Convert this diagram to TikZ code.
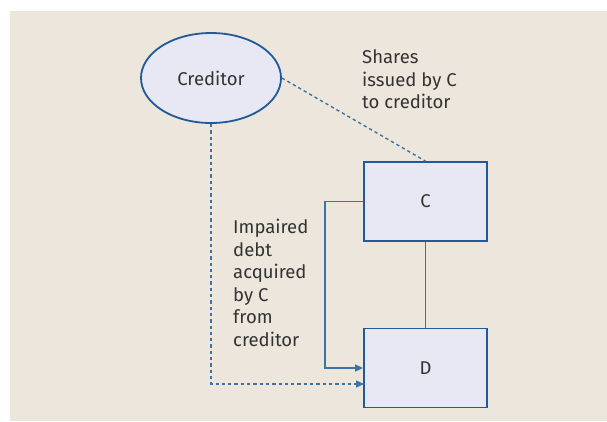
\documentclass[tikz,border=0pt]{standalone}
\usepackage{fontspec}
\setmainfont{Fira Sans}
\usetikzlibrary{arrows.meta,shapes.geometric}
\definecolor{paper}{HTML}{ECE6DC}
\definecolor{boxfill}{HTML}{E8E8F4}
\definecolor{edge}{HTML}{1F5A9A}
\definecolor{link}{HTML}{3F73A6}
\definecolor{ink}{HTML}{333333}
\begin{document}
\begin{tikzpicture}[x=1pt,y=-1pt,
  party/.style={draw=edge,fill=boxfill,line width=1.8pt,text=ink,font=\fontsize{18.5}{22}\selectfont},
  entity/.style={party,rectangle,minimum width=123pt,minimum height=79pt},
  conn/.style={draw=link,line width=1.4pt},
  dashline/.style={conn,dash pattern=on 3.3pt off 3pt},
  flow/.style={conn,-{Triangle[length=8pt,width=7pt]}},
  dashedflow/.style={flow,dash pattern=on 3.3pt off 3pt},
  note/.style={text=ink,align=left,font=\fontsize{18.5}{22.5}\selectfont,anchor=north west,inner sep=0pt}]
  \useasboundingbox (0,0) rectangle (607,421);
  \fill[paper] (10,11) rectangle (607,421);

  \node[party,ellipse,minimum width=140pt,minimum height=90pt] (cred) at (211,78) {Creditor};
  \node[entity] (c) at (425.5,201.5) {C};
  \node[entity] (d) at (425.5,368) {D};

  \coordinate (bendA) at (325,201.5);
  \coordinate (bendB) at (325,368);
  \coordinate (bendC) at (211,384);
  \coordinate (dlow) at (364,384);

  \draw[conn] (c) -- (d);
  \draw[flow] (c.west) -- (bendA) -- (bendB) -- (d.west);
  \draw[dashline] (cred.east) -- (c.north);
  \draw[dashedflow] (cred.south) -- (bendC) -- (dlow);

  \node[note] (shares) at (362,49.5) {Shares\\issued by C\\to creditor};
  \node[note] (debt) at (233,219) {Impaired\\debt\\acquired\\by C\\from\\creditor};
\end{tikzpicture}
\end{document}
